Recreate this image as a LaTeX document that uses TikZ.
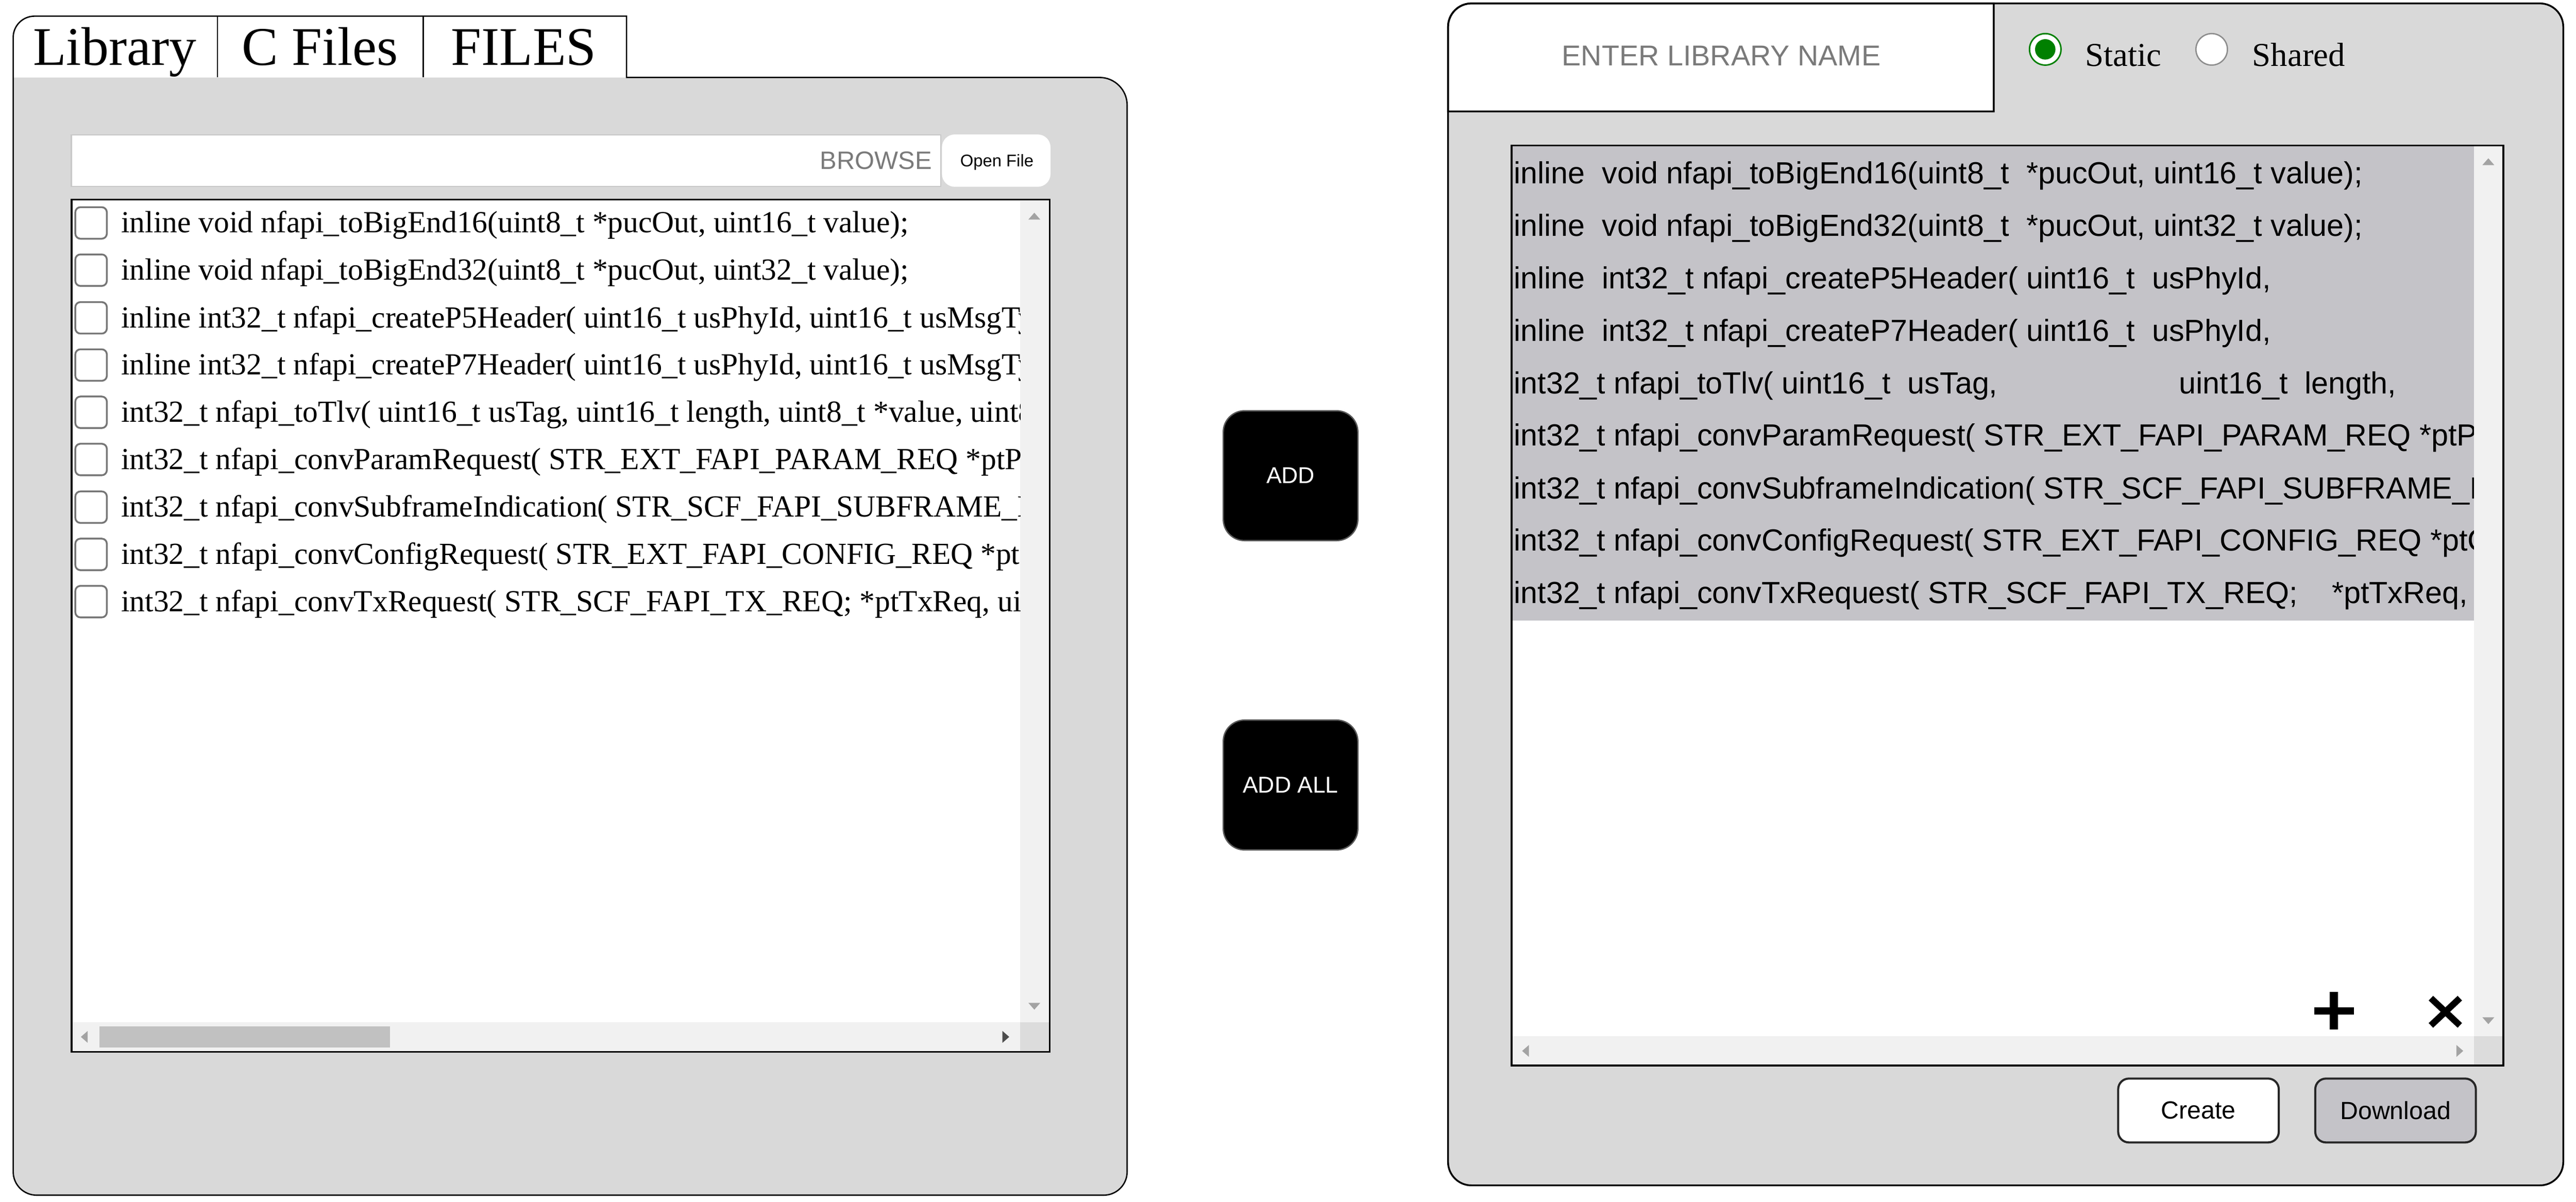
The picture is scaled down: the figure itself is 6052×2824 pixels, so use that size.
\documentclass[tikz,border=0pt]{standalone}
\usepackage{fontspec}
\setmainfont{Liberation Serif}
\newfontfamily\arialf{Liberation Sans}
\definecolor{pg}{HTML}{D9D9D9}
\definecolor{hl}{HTML}{C4C3C8}
\definecolor{sbar}{HTML}{F1F1F1}
\definecolor{thumbc}{HTML}{C1C1C1}
\definecolor{arrowc}{HTML}{A3A3A3}
\definecolor{cornerc}{HTML}{DCDCDC}
\definecolor{chkgray}{HTML}{767676}
\definecolor{phgray}{HTML}{7A7A7A}
\definecolor{radiogreen}{HTML}{008000}
\definecolor{inputgray}{HTML}{C8C8C8}
\begin{document}
\begin{tikzpicture}[x=0.01cm,y=-0.01cm,
  panelline/.style={draw=black, line width=0.9pt},
  boxline/.style={draw=black, line width=1.2pt},
  rowL/.style={anchor=base west, inner sep=0pt, font=\fontsize{20.5pt}{24pt}\selectfont},
  rowR/.style={anchor=base west, inner sep=0pt, font=\arialf\fontsize{20.4pt}{24pt}\selectfont},
  tabtext/.style={anchor=base west, inner sep=0pt, font=\fontsize{36.4pt}{40pt}\selectfont},
  chk/.style={draw=chkgray, line width=1.2pt, fill=white, rounded corners=0.12cm, minimum size=0.74cm, inner sep=0pt},
  blackbtn/.style={fill=black, draw=black!65, line width=0.9pt, rounded corners=0.5cm, minimum width=3.16cm, text=white, inner sep=0pt, font=\arialf\fontsize{15.3pt}{18pt}\selectfont},
  lightbtn/.style={draw=black!85, line width=1.4pt, rounded corners=0.25cm, minimum width=3.77cm, minimum height=1.50cm, inner sep=0pt, font=\arialf\fontsize{16.6pt}{20pt}\selectfont},
  arrowtri/.style={fill=arrowc, draw=none}
]
\useasboundingbox (0,0) rectangle (6052,2824);
\fill[white] (0,0) rectangle (6052,2824);

% ---------------- LEFT PANEL ----------------
\fill[pg] (31,182) -- (2583,182) arc[start angle=-90,end angle=0,radius=65]
  -- (2648,2754) arc[start angle=0,end angle=90,radius=55]
  -- (86,2809) arc[start angle=90,end angle=180,radius=55] -- cycle;
\fill[white] (31,182) -- (31,88) arc[start angle=180,end angle=270,radius=50]
  -- (1472,38) -- (1472,182) -- cycle;
\draw[panelline] (1472,182) -- (2583,182) arc[start angle=-90,end angle=0,radius=65]
  -- (2648,2754) arc[start angle=0,end angle=90,radius=55]
  -- (86,2809) arc[start angle=90,end angle=180,radius=55]
  -- (31,88) arc[start angle=180,end angle=270,radius=50]
  -- (1472,38) -- cycle;
\draw[panelline] (511,38) -- (511,182);
\draw[panelline] (994,38) -- (994,182);
\node[tabtext] (tabLib) at (77,153) {Library};
\node[tabtext] (tabC) at (568,153) {C Files};
\node[tabtext] (tabF) at (1059,153) {FILES};

% browse input and open file button
\draw[fill=white, draw=inputgray, line width=0.9pt] (168,317) rectangle (2210,438);
\node[anchor=east, inner sep=0pt, text=phgray, font=\arialf\fontsize{16.8pt}{20pt}\selectfont] (browse) at (2190,377) {BROWSE};
\fill[white, rounded corners=0.3cm] (2213,316) rectangle (2468,439);
\node[anchor=base, inner sep=0pt, font=\arialf\fontsize{11.3pt}{14pt}\selectfont] (openfile) at (2342,392) {Open File};

% list box
\fill[white] (168,469) rectangle (2466,2472);
\fill[sbar] (2397,471) rectangle (2466,2471);
\fill[sbar] (168,2403) rectangle (2466,2471);
\fill[cornerc] (2397,2403) rectangle (2466,2471);
\fill[thumbc] (233,2412) rectangle (916,2462);
\fill[arrowc] (2416,516) -- (2444,516) -- (2430,500) -- cycle;
\fill[arrowc] (2416,2357) -- (2444,2357) -- (2430,2373) -- cycle;
\fill[arrowc] (206,2423) -- (206,2451) -- (190,2437) -- cycle;
\fill[black!70] (2355,2423) -- (2355,2451) -- (2371,2437) -- cycle;
\draw[boxline] (168,469) rectangle (2466,2472);

\node[chk] (c1) at (214,524) {};
\node[chk] (c2) at (214,635) {};
\node[chk] (c3) at (214,747) {};
\node[chk] (c4) at (214,858) {};
\node[chk] (c5) at (214,969) {};
\node[chk] (c6) at (214,1080) {};
\node[chk] (c7) at (214,1192) {};
\node[chk] (c8) at (214,1303) {};
\node[chk] (c9) at (214,1414) {};

\begin{scope}
\clip (170,471) rectangle (2397,2403);
\node[rowL] (l1) at (284,547) {inline void nfapi\_toBigEnd16(uint8\_t *pucOut, uint16\_t value);};
\node[rowL] (l2) at (284,658) {inline void nfapi\_toBigEnd32(uint8\_t *pucOut, uint32\_t value);};
\node[rowL] (l3) at (284,770) {inline int32\_t nfapi\_createP5Header( uint16\_t usPhyId, uint16\_t usMsgType};
\node[rowL] (l4) at (284,881) {inline int32\_t nfapi\_createP7Header( uint16\_t usPhyId, uint16\_t usMsgType};
\node[rowL] (l5) at (284,992) {int32\_t nfapi\_toTlv( uint16\_t usTag, uint16\_t length, uint8\_t *value, uint8\_t};
\node[rowL] (l6) at (284,1103) {int32\_t nfapi\_convParamRequest( STR\_EXT\_FAPI\_PARAM\_REQ *ptParamReq};
\node[rowL] (l7) at (284,1215) {int32\_t nfapi\_convSubframeIndication( STR\_SCF\_FAPI\_SUBFRAME\_IND};
\node[rowL] (l8) at (284,1326) {int32\_t nfapi\_convConfigRequest( STR\_EXT\_FAPI\_CONFIG\_REQ *ptConfigReq};
\node[rowL] (l9) at (284,1437) {int32\_t nfapi\_convTxRequest( STR\_SCF\_FAPI\_TX\_REQ; *ptTxReq, uint8\_t};
\end{scope}

% ---------------- MIDDLE BUTTONS ----------------
\node[blackbtn, minimum height=3.05cm] (add) at (3032,1118) {ADD};
\node[blackbtn, minimum height=3.05cm] (addall) at (3032,1845) {ADD ALL};

% ---------------- RIGHT PANEL ----------------
\fill[pg, rounded corners=0.55cm] (3402,8) rectangle (6022,2786);
\draw[fill=white, line width=1.2pt] (3402,262) -- (3402,63) arc[start angle=180,end angle=270,radius=55]
  -- (4684,8) -- (4684,262) -- cycle;
\draw[panelline, line width=1.2pt, rounded corners=0.55cm] (3402,8) rectangle (6022,2786);
\node[inner sep=0pt, text=phgray, font=\arialf\fontsize{19.2pt}{22pt}\selectfont] (libname) at (4044,131) {ENTER LIBRARY NAME};

% radios
\draw[radiogreen, fill=white, line width=1.0pt] (4805,116) circle[radius=37];
\fill[radiogreen] (4805,116) circle[radius=24];
\draw[black!45, fill=white, line width=0.9pt] (5196,116) circle[radius=37];
\node[anchor=base west, inner sep=0pt, font=\fontsize{22.3pt}{26pt}\selectfont] (static) at (4898,155) {Static};
\node[anchor=base west, inner sep=0pt, font=\fontsize{22.3pt}{26pt}\selectfont] (shared) at (5291,155) {Shared};

% text area
\fill[white] (3551,342) rectangle (5881,2504);
\fill[hl] (3551,344) rectangle (5812,1459);
\fill[sbar] (5812,344) rectangle (5881,2504);
\fill[sbar] (3551,2435) rectangle (5881,2504);
\fill[cornerc] (5812,2435) rectangle (5881,2504);
\fill[arrowc] (5832,388) -- (5860,388) -- (5846,372) -- cycle;
\fill[arrowc] (5832,2391) -- (5860,2391) -- (5846,2407) -- cycle;
\fill[arrowc] (3592,2456) -- (3592,2484) -- (3576,2470) -- cycle;
\fill[arrowc] (5771,2456) -- (5771,2484) -- (5787,2470) -- cycle;
\draw[boxline] (3551,342) rectangle (5881,2504);

\begin{scope}
\clip (3553,344) rectangle (5812,2435);
\node[rowR] (r1) at (3556,432) {inline\ \ void nfapi\_toBigEnd16(uint8\_t\ \ *pucOut, uint16\_t value);};
\node[rowR] (r2) at (3556,555) {inline\ \ void nfapi\_toBigEnd32(uint8\_t\ \ *pucOut, uint32\_t value);};
\node[rowR] (r3) at (3556,678) {inline\ \ int32\_t nfapi\_createP5Header( uint16\_t\ \ usPhyId,};
\node[rowR] (r4) at (3556,802) {inline\ \ int32\_t nfapi\_createP7Header( uint16\_t\ \ usPhyId,};
\node[rowR] (r5) at (3556,925) {int32\_t nfapi\_toTlv( uint16\_t\ \ usTag,\hspace{4.26cm}uint16\_t\ \ length,};
\node[rowR] (r6) at (3556,1048) {int32\_t nfapi\_convParamRequest( STR\_EXT\_FAPI\_PARAM\_REQ *ptParamReq};
\node[rowR] (r7) at (3556,1172) {int32\_t nfapi\_convSubframeIndication( STR\_SCF\_FAPI\_SUBFRAME\_IND};
\node[rowR] (r8) at (3556,1295) {int32\_t nfapi\_convConfigRequest( STR\_EXT\_FAPI\_CONFIG\_REQ *ptConfigReq};
\node[rowR] (r9) at (3556,1418) {int32\_t nfapi\_convTxRequest( STR\_SCF\_FAPI\_TX\_REQ;\ \ \ \ *ptTxReq,};
\end{scope}

% plus and cross icons
\draw[line width=5.4pt] (5483,2331) -- (5483,2420);
\draw[line width=4.8pt] (5437,2376) -- (5530,2376);
\draw[line width=4.3pt] (5711,2346) -- (5779,2410);
\draw[line width=4.3pt] (5779,2346) -- (5711,2410);

% create / download
\node[lightbtn, fill=white] (create) at (5165,2610) {Create};
\node[lightbtn, fill=hl] (download) at (5628,2610) {Download};
\end{tikzpicture}
\end{document}
